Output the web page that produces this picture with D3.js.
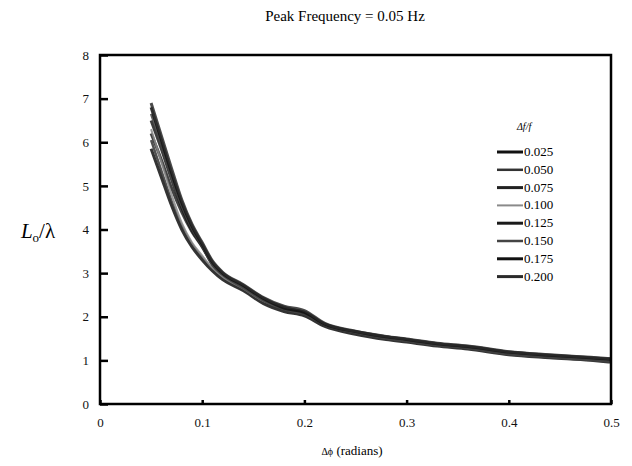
<!DOCTYPE html>
<html>
<head>
<meta charset="utf-8">
<script src="https://cdn.jsdelivr.net/npm/d3@7"></script>
<style>
  body { margin: 0; background: #fff; }
  svg { font-family: "Liberation Serif", "DejaVu Serif", serif; }
</style>
</head>
<body>
<div id="chart"></div>
<script>
// phase spread (radians)
const dphi = [0.05, 0.06, 0.07, 0.08, 0.09, 0.10, 0.11, 0.12, 0.14, 0.16, 0.18,
              0.20, 0.22, 0.25, 0.28, 0.30, 0.33, 0.36, 0.40, 0.44, 0.48, 0.50];

const bandwidths = ["0.025", "0.050", "0.075", "0.100", "0.125", "0.150", "0.175", "0.200"];

// Lo/lambda for each df/f
const s025 = [5.85, 5.20, 4.55, 4.00, 3.60, 3.30, 3.05, 2.85, 2.60, 2.30, 2.12, 2.02, 1.78, 1.60, 1.48, 1.42, 1.33, 1.26, 1.13, 1.06, 1.00, 0.96];
const s050 = [6.05, 5.35, 4.65, 4.08, 3.66, 3.35, 3.08, 2.88, 2.62, 2.33, 2.15, 2.05, 1.80, 1.62, 1.50, 1.44, 1.35, 1.28, 1.15, 1.08, 1.02, 0.98];
const s075 = [6.20, 5.60, 4.95, 4.40, 3.95, 3.60, 3.20, 2.95, 2.68, 2.38, 2.18, 2.10, 1.82, 1.64, 1.52, 1.46, 1.36, 1.30, 1.17, 1.10, 1.04, 1.00];
const s100 = [6.30, 5.55, 4.80, 4.15, 3.70, 3.40, 3.12, 2.92, 2.65, 2.36, 2.20, 2.12, 1.84, 1.66, 1.53, 1.47, 1.37, 1.31, 1.18, 1.11, 1.05, 1.02];
const s125 = [6.50, 5.85, 5.15, 4.50, 3.98, 3.62, 3.22, 2.98, 2.70, 2.40, 2.22, 2.08, 1.82, 1.65, 1.52, 1.45, 1.36, 1.30, 1.16, 1.09, 1.03, 1.00];
const s150 = [6.65, 5.95, 5.20, 4.55, 4.02, 3.62, 3.18, 2.96, 2.66, 2.37, 2.17, 2.06, 1.81, 1.63, 1.50, 1.44, 1.34, 1.28, 1.14, 1.07, 1.01, 0.97];
const s175 = [6.80, 6.05, 5.30, 4.62, 4.08, 3.66, 3.25, 3.00, 2.72, 2.42, 2.20, 2.10, 1.83, 1.66, 1.54, 1.48, 1.38, 1.32, 1.19, 1.12, 1.06, 1.03];
const s200 = [6.90, 6.15, 5.40, 4.68, 4.12, 3.70, 3.28, 3.02, 2.74, 2.44, 2.24, 2.14, 1.85, 1.67, 1.55, 1.49, 1.39, 1.33, 1.20, 1.13, 1.07, 1.04];

const series = [s025, s050, s075, s100, s125, s150, s175, s200];

const xTicks = [0, 0.1, 0.2, 0.3, 0.4, 0.5];
const yTicks = [0, 1, 2, 3, 4, 5, 6, 7, 8];

const strokes = ["#111", "#333", "#222", "#8a8a8a", "#1a1a1a", "#444", "#111", "#2a2a2a"];
const widths = [3, 2.5, 3, 2, 3, 2.5, 3, 3];

const W = 632, H = 466;
const margin = { top: 55, right: 21, bottom: 62, left: 100 };
const width = W - margin.left - margin.right;
const height = H - margin.top - margin.bottom;

const svg = d3.select("#chart").append("svg")
    .attr("width", W)
    .attr("height", H);

const g = svg.append("g")
    .attr("transform", `translate(${margin.left},${margin.top})`);

const x = d3.scaleLinear().domain([0, 0.5]).range([0, width]);
const y = d3.scaleLinear().domain([0, 8]).range([height, 0]);

// curves
const line = d3.line()
    .x((d, i) => x(dphi[i]))
    .y(d => y(d))
    .curve(d3.curveMonotoneX);

g.selectAll(".curve")
    .data(series)
    .join("path")
    .attr("class", "curve")
    .attr("fill", "none")
    .attr("stroke", (d, i) => strokes[i])
    .attr("stroke-width", (d, i) => widths[i])
    .attr("stroke-opacity", 0.85)
    .attr("d", line);

// axes, ticks pointing inward
const yAxis = g.append("g")
    .call(d3.axisLeft(y).tickValues(yTicks).tickSizeInner(-8).tickSizeOuter(0).tickPadding(11));
const xAxis = g.append("g")
    .attr("transform", `translate(0,${height})`)
    .call(d3.axisBottom(x).tickValues(xTicks).tickSizeInner(-4).tickSizeOuter(0).tickPadding(14)
        .tickFormat(d => d === 0 ? "0" : d3.format(".1f")(d)));

[yAxis, xAxis].forEach(a => {
    a.select(".domain").remove();
    a.selectAll(".tick line").attr("stroke", "#000").attr("stroke-width", 2.5);
    a.selectAll("text").attr("font-size", 13).attr("fill", "#111")
        .attr("font-family", "Liberation Serif, serif");
});

// frame
g.append("rect")
    .attr("width", width)
    .attr("height", height)
    .attr("fill", "none")
    .attr("stroke", "#000")
    .attr("stroke-width", 2.5);

// title
svg.append("text")
    .attr("x", 345)
    .attr("y", 21)
    .attr("text-anchor", "middle")
    .attr("font-size", 15)
    .text("Peak Frequency = 0.05 Hz");

// x label
const xl = svg.append("text")
    .attr("x", 352)
    .attr("y", 455)
    .attr("text-anchor", "middle")
    .attr("font-size", 13);
xl.append("tspan").attr("font-size", 10).text("Δϕ");
xl.append("tspan").text(" (radians)");

// y label
const yl = svg.append("text")
    .attr("x", 38)
    .attr("y", 238)
    .attr("text-anchor", "middle")
    .attr("font-size", 21);
yl.append("tspan").attr("font-style", "italic").text("L");
yl.append("tspan").attr("font-size", 13).attr("dy", 4).text("o");
yl.append("tspan").attr("dy", -4).text("/λ");

// legend
const legend = g.append("g")
    .attr("transform", `translate(${497 - margin.left},${152 - margin.top})`);

legend.append("text")
    .attr("x", 20)
    .attr("y", -22)
    .attr("font-size", 10)
    .attr("font-style", "italic")
    .text("Δf/f");

const items = legend.selectAll(".item")
    .data(bandwidths)
    .join("g")
    .attr("class", "item")
    .attr("transform", (d, i) => `translate(0,${i * 17.8})`);

items.append("line")
    .attr("x1", 0)
    .attr("x2", 26)
    .attr("stroke", (d, i) => strokes[i])
    .attr("stroke-width", (d, i) => widths[i]);

items.append("text")
    .attr("x", 27)
    .attr("y", 4)
    .attr("font-size", 13)
    .text(d => d);
</script>
</body>
</html>
